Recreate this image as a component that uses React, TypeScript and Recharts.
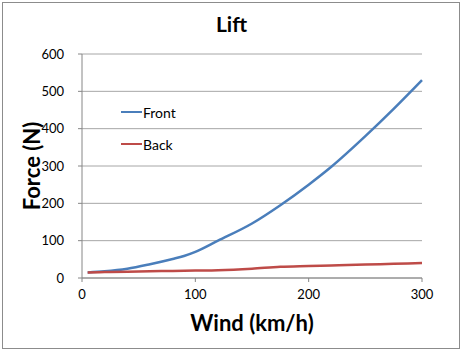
import { LineChart, Line, XAxis, YAxis, CartesianGrid, Label } from 'recharts';

const wind: number[] = [5, 20, 40, 60, 80, 90, 100, 120, 150, 175, 200, 220, 250, 275, 300];
const front: number[] = [15, 18, 25, 37, 51, 59, 70, 100, 146, 195, 250, 298, 380, 453, 530];
const back: number[] = [15, 16, 17, 18, 19, 19.5, 20, 21, 25, 30, 32, 33.5, 36, 38, 40];
const xTicks: number[] = [0, 100, 200, 300];
const yTicks: number[] = [0, 100, 200, 300, 400, 500, 600];

const data = wind.map((w, i) => ({ wind: w, front: front[i], back: back[i] }));

const FONT = 'Lato, "Open Sans", sans-serif';

const series = [
  { key: 'front', name: 'Front', color: '#4a7ebb' },
  { key: 'back', name: 'Back', color: '#be4b48' },
];

const App = () => {
  return (
    <div style={{ position: 'absolute', left: 0, top: 0, width: 463, height: 352, background: '#fff' }}>
      <div
        style={{
          position: 'absolute', left: 2, top: 2, width: 456, height: 345,
          border: '1px solid #8c8c8c', pointerEvents: 'none',
        }}
      />
      <div
        style={{
          position: 'absolute', left: 0, top: 11, width: 463, textAlign: 'center',
          fontFamily: FONT, fontWeight: 'bold', fontSize: 21, color: '#000',
        }}
      >
        Lift
      </div>
      <LineChart
        width={463}
        height={352}
        data={data}
        margin={{ top: 54, right: 41, left: 22, bottom: 44 }}
        style={{ fontFamily: FONT }}
      >
        <CartesianGrid vertical={false} stroke="#a6a6a6" strokeWidth={1} />
        <XAxis
          dataKey="wind"
          type="number"
          domain={[0, 300]}
          ticks={xTicks}
          stroke="#868686"
          tickSize={4}
          tickMargin={8}
          height={30}
          tick={{ fill: '#000', fontSize: 13 }}
        >
          <Label value="Wind (km/h)" position="bottom" offset={7} style={{ fontWeight: 'bold', fontSize: 22, fill: '#000' }} />
        </XAxis>
        <YAxis
          type="number"
          domain={[0, 600]}
          ticks={yTicks}
          stroke="#868686"
          tickSize={4}
          tickMargin={14}
          width={60}
          tick={{ fill: '#000', fontSize: 13 }}
        >
          <Label value="Force (N)" angle={-90} position="insideLeft" offset={10} style={{ fontWeight: 'bold', fontSize: 22, fill: '#000', textAnchor: 'middle' }} />
        </YAxis>
        {series.map((s) => (
          <Line
            key={s.key}
            type="monotone"
            dataKey={s.key}
            name={s.name}
            stroke={s.color}
            strokeWidth={2.5}
            dot={false}
            isAnimationActive={false}
          />
        ))}
      </LineChart>
      <div style={{ position: 'absolute', left: 121, top: 96, fontFamily: FONT, fontSize: 14, color: '#000' }}>
        {series.map((s) => (
          <div key={s.key} style={{ display: 'flex', alignItems: 'center', height: 32 }}>
            <span style={{ display: 'inline-block', width: 21, height: 2.5, background: s.color }} />
            <span style={{ marginLeft: 1 }}>{s.name}</span>
          </div>
        ))}
      </div>
    </div>
  );
};

export default App;
